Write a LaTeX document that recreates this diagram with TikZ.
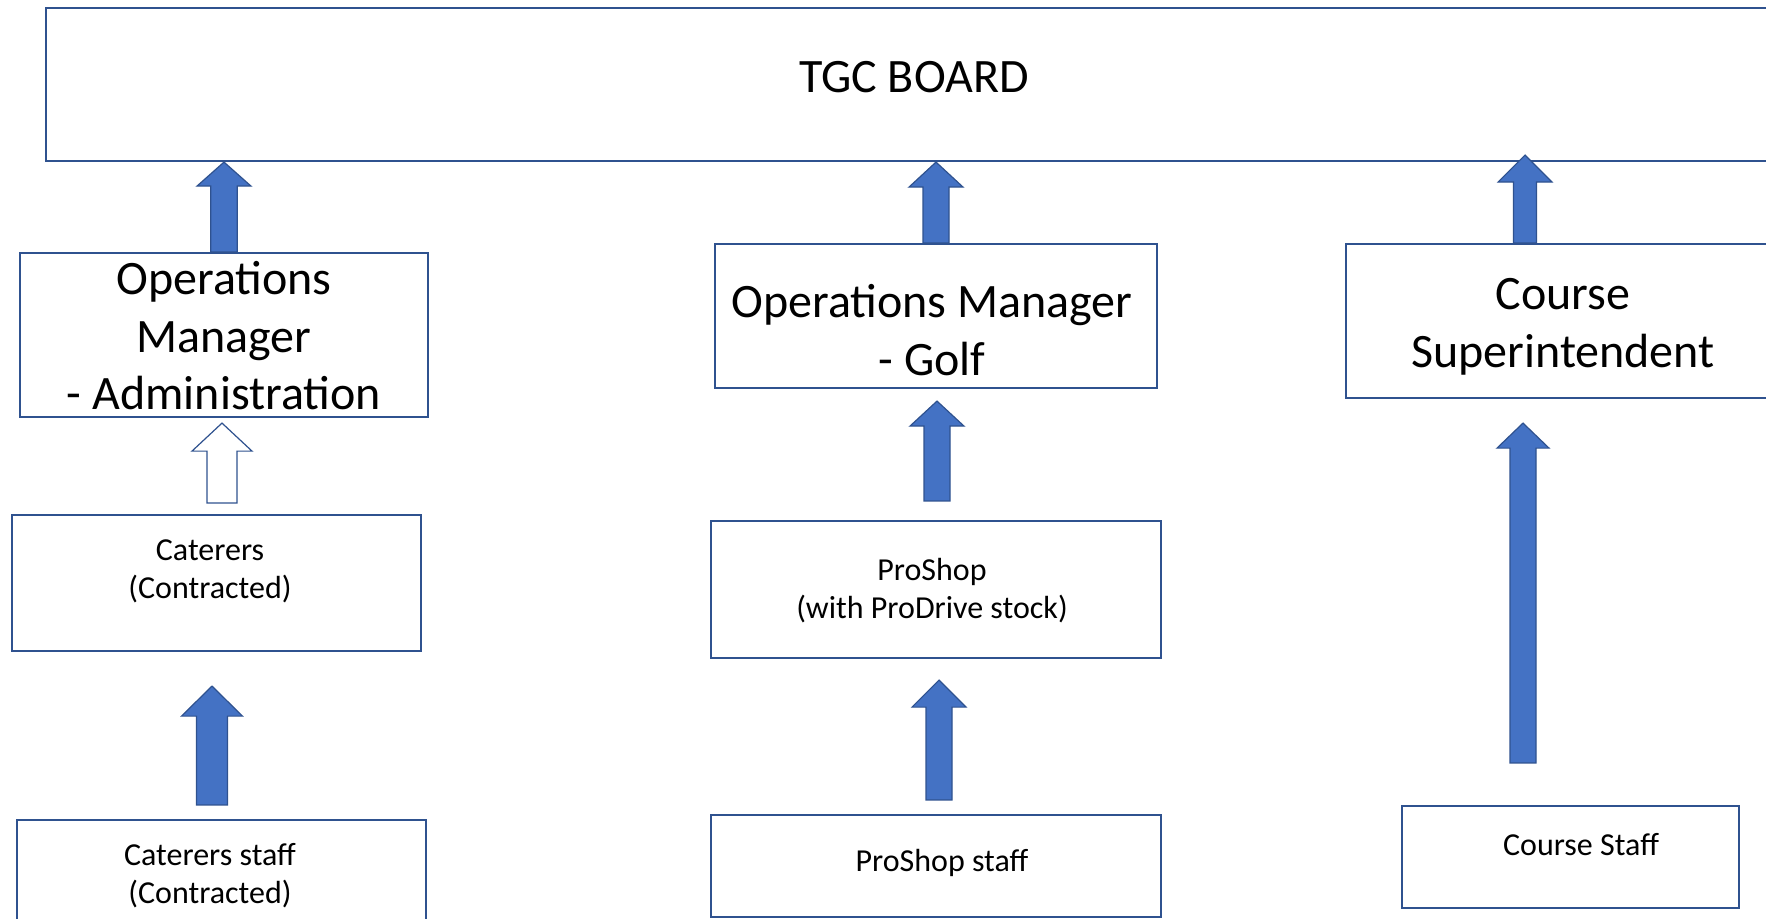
\documentclass[tikz,border=0pt]{standalone}
\usepackage{fontspec}
\setmainfont{Carlito}
\usetikzlibrary{calc}

\definecolor{boxline}{HTML}{2F528F}
\definecolor{arrowfill}{HTML}{4472C4}

\tikzset{
  box/.style={draw=boxline, line width=1.1pt, inner sep=0pt},
  bigtext/.style={font=\fontsize{24}{28.75}\selectfont, align=center},
  smalltext/.style={font=\fontsize{16}{19}\selectfont, align=center},
  arrow shaft/.store in=\ashaft, arrow head/.store in=\ahead, arrow len/.store in=\alen,
  arrow shaft=6.5pt, arrow head=13.5pt, arrow len=12.5pt,
  blockarrow/.style={draw=boxline, fill=arrowfill, line width=0.6pt,
    to path={let \p1=(\tikztostart), \p2=(\tikztotarget) in
      (\x1-\ashaft,\y1) -- (\x1-\ashaft,\y2-\alen) -- (\x1-\ahead,\y2-\alen) -- (\x1,\y2)
      -- (\x1+\ahead,\y2-\alen) -- (\x1+\ashaft,\y2-\alen) -- (\x1+\ashaft,\y1) -- cycle}}
}

\begin{document}
\begin{tikzpicture}[x=0.5pt, y=-0.5pt]
\useasboundingbox (0,0) rectangle (1766,919);

% boxes
\node[box, minimum width=868pt, minimum height=76.5pt] (board) at (914,84.5) {};
\node[box, minimum width=204.3pt, minimum height=82pt] (admin) at (224,335) {};
\node[box, minimum width=221pt, minimum height=72pt] (golf) at (936,316) {};
\node[box, minimum width=217pt, minimum height=77pt] (supt) at (1563,321) {};
\node[box, minimum width=204.5pt, minimum height=68pt] (cat) at (216.5,583) {};
\node[box, minimum width=225pt, minimum height=68.5pt] (pro) at (936,589.5) {};
\node[box, minimum width=204.5pt, minimum height=68pt] (catstaff) at (221.5,888) {};
\node[box, minimum width=225pt, minimum height=51pt] (prostaff) at (936,866) {};
\node[box, minimum width=168.5pt, minimum height=51pt] (cstaff) at (1570.5,857) {};

% texts
\node[bigtext] (boardtxt) at (914,77) {TGC BOARD};
\node[bigtext] (admintxt) at (224,336) {Operations\\Manager\\- Administration};
\node[bigtext] (golftxt) at (932,330) {Operations Manager\\- Golf};
\node[bigtext] (supttxt) at (1563,327) {Course\\Superintendent};
\node[smalltext] (cattxt) at (210,571) {Caterers\\(Contracted)};
\node[smalltext] (protxt) at (932,591) {ProShop\\(with ProDrive stock)};
\node[smalltext] (catstafftxt) at (210,876) {Caterers staff\\(Contracted)};
\node[smalltext] (prostafftxt) at (942,863) {ProShop staff};
\node[smalltext] (cstafftxt) at (1581,845) {Course Staff};

% arrows
\draw[blockarrow, arrow shaft=6.6pt, arrow len=12pt] (admin.north) to (board.south);
\draw[blockarrow] (golf.north) to (board.south);
\draw[blockarrow, arrow shaft=5.75pt, arrow len=13.5pt] ([xshift=-19pt]supt.north) to ([yshift=3.5pt]board.south);
\draw[blockarrow] ([xshift=0.5pt,yshift=9.5pt]pro.north) to ([yshift=-6pt]golf.south);
\draw[blockarrow, fill=white, arrow shaft=7.5pt, arrow head=15pt, arrow len=14pt] ([xshift=2.75pt,yshift=5.5pt]cat.north) to ([yshift=-2.5pt]admin.south);
\draw[blockarrow, arrow shaft=7.75pt, arrow head=15.25pt, arrow len=15pt] ([xshift=-4.75pt,yshift=7pt]catstaff.north) to ([yshift=-17pt]cat.south);
\draw[blockarrow, arrow len=13.5pt] ([xshift=1.5pt,yshift=7pt]prostaff.north) to ([yshift=-10.5pt]pro.south);
\draw[blockarrow, arrow head=13pt] ([xshift=-23.75pt,yshift=21pt]cstaff.north) to ([yshift=-12pt]supt.south);
\end{tikzpicture}
\end{document}
